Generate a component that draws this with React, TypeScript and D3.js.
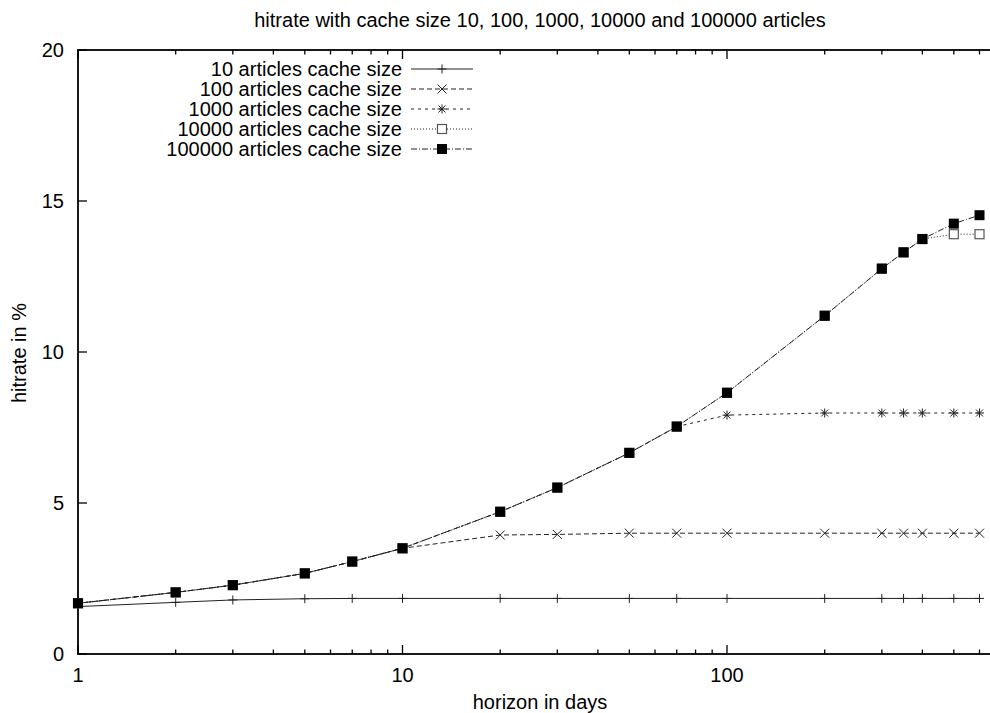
import React, { useRef, useEffect } from 'react';
import * as d3 from 'd3';

// horizon in days (x) and hitrate in % for each cache size
const days = [1, 2, 3, 5, 7, 10, 20, 30, 50, 70, 100, 200, 300, 350, 400, 500, 600];
const cache10 = [1.57, 1.71, 1.79, 1.83, 1.84, 1.84, 1.84, 1.84, 1.84, 1.84, 1.84, 1.84, 1.84, 1.84, 1.84, 1.84, 1.84];
const cache100 = [1.68, 2.04, 2.28, 2.67, 3.06, 3.5, 3.94, 3.96, 4.0, 4.0, 4.0, 4.0, 4.0, 4.0, 4.0, 4.0, 4.0];
const cache1000 = [1.68, 2.04, 2.28, 2.67, 3.06, 3.5, 4.71, 5.51, 6.66, 7.53, 7.91, 7.98, 7.98, 7.98, 7.98, 7.98, 7.98];
const cache10000 = [1.68, 2.04, 2.28, 2.67, 3.06, 3.5, 4.71, 5.51, 6.66, 7.53, 8.65, 11.2, 12.76, 13.3, 13.74, 13.9, 13.9];
const cache100000 = [1.68, 2.04, 2.28, 2.67, 3.06, 3.5, 4.71, 5.51, 6.66, 7.53, 8.65, 11.2, 12.76, 13.3, 13.74, 14.25, 14.53];

const seriesNames = [
  '10 articles cache size',
  '100 articles cache size',
  '1000 articles cache size',
  '10000 articles cache size',
  '100000 articles cache size',
];
const seriesValues = [cache10, cache100, cache1000, cache10000, cache100000];
const yTicks = [0, 5, 10, 15, 20];
const xMajor = [1, 10, 100, 1000];
const xLabels = [1, 10, 100]; // 1000 lies past the right edge of the picture

const W = 990;
const H = 713;
const FONT = '"Liberation Sans", Arial, sans-serif';
const FS = 20;

const dashes = ['none', '5,3', '3,4', '1,2', '6,2,1,2'];
const markers = ['plus', 'cross', 'star', 'box', 'fbox'];

function drawMarker(g: any, kind: string, cx: number, cy: number) {
  const r = 4.5;
  if (kind === 'plus' || kind === 'star') {
    g.append('path').attr('d', `M${cx - r},${cy}H${cx + r}M${cx},${cy - r}V${cy + r}`)
      .attr('stroke', '#222').attr('stroke-width', 1).attr('fill', 'none');
  }
  if (kind === 'cross' || kind === 'star') {
    const q = kind === 'star' ? 3.5 : r;
    g.append('path').attr('d', `M${cx - q},${cy - q}L${cx + q},${cy + q}M${cx - q},${cy + q}L${cx + q},${cy - q}`)
      .attr('stroke', '#222').attr('stroke-width', 1).attr('fill', 'none');
  }
  if (kind === 'box') {
    g.append('rect').attr('x', cx - 4.5).attr('y', cy - 4.5).attr('width', 9).attr('height', 9)
      .attr('fill', '#fff').attr('stroke', '#555').attr('stroke-width', 1.2);
  }
  if (kind === 'fbox') {
    g.append('rect').attr('x', cx - 5).attr('y', cy - 5).attr('width', 10).attr('height', 10)
      .attr('fill', '#000');
  }
}

const App: React.FC = () => {
  const ref = useRef<SVGSVGElement>(null);

  useEffect(() => {
    const svg = d3.select(ref.current);
    svg.selectAll('*').remove();

    const left = 78, top = 50, bottom = 654;
    const x = d3.scaleLog().domain([1, 1000]).range([left, left + 3 * 324.5]);
    const y = d3.scaleLinear().domain([0, 20]).range([bottom, top]);
    const right = x(1000);

    svg.append('rect').attr('width', W).attr('height', H).attr('fill', '#fff');

    // title
    svg.append('text').attr('x', 540).attr('y', 27).attr('text-anchor', 'middle')
      .attr('font-family', FONT).attr('font-size', FS)
      .text('hitrate with cache size 10, 100, 1000, 10000 and 100000 articles');

    // x ticks (bottom + mirrored top)
    const ticks = x.ticks();
    const axis = svg.append('g').attr('stroke', '#000').attr('stroke-width', 1.3);
    ticks.forEach(t => {
      const major = xMajor.includes(t);
      const len = major ? 9 : 4.5;
      const px = x(t);
      axis.append('line').attr('x1', px).attr('x2', px).attr('y1', bottom).attr('y2', bottom - len);
      axis.append('line').attr('x1', px).attr('x2', px).attr('y1', top).attr('y2', top + len);
    });
    svg.append('g').selectAll('text').data(xLabels).join('text')
      .attr('x', d => x(d)).attr('y', 682).attr('text-anchor', 'middle')
      .attr('font-family', FONT).attr('font-size', FS).text(d => String(d));

    // y ticks
    yTicks.forEach(t => {
      axis.append('line').attr('x1', left).attr('x2', left + 9).attr('y1', y(t)).attr('y2', y(t));
      axis.append('line').attr('x1', right).attr('x2', right - 9).attr('y1', y(t)).attr('y2', y(t));
    });
    svg.append('g').selectAll('text').data(yTicks).join('text')
      .attr('x', 64).attr('y', d => y(d)).attr('text-anchor', 'end').attr('dominant-baseline', 'central')
      .attr('font-family', FONT).attr('font-size', FS).text(d => String(d));

    // frame
    svg.append('rect').attr('x', left).attr('y', top).attr('width', right - left).attr('height', bottom - top)
      .attr('fill', 'none').attr('stroke', '#000').attr('stroke-width', 1.8);

    // axis labels
    svg.append('text').attr('x', 540).attr('y', 709).attr('text-anchor', 'middle')
      .attr('font-family', FONT).attr('font-size', FS).text('horizon in days');
    svg.append('text').attr('transform', 'translate(26,353) rotate(-90)').attr('text-anchor', 'middle')
      .attr('font-family', FONT).attr('font-size', FS).text('hitrate in %');

    // series
    const line = d3.line<number>().x((_, i) => x(days[i])).y(d => y(d));
    seriesValues.forEach((vals, s) => {
      const g = svg.append('g');
      g.append('path').attr('d', line(vals) as string).attr('fill', 'none')
        .attr('stroke', '#222').attr('stroke-width', 1).attr('stroke-dasharray', dashes[s]);
      vals.forEach((v, i) => drawMarker(g, markers[s], x(days[i]), y(v)));
    });

    // legend
    const lg = svg.append('g');
    seriesNames.forEach((name, s) => {
      const ly = 69 + s * 20;
      lg.append('text').attr('x', 402).attr('y', ly).attr('text-anchor', 'end').attr('dominant-baseline', 'central')
        .attr('font-family', FONT).attr('font-size', FS).text(name);
      lg.append('line').attr('x1', 411).attr('x2', 473).attr('y1', ly).attr('y2', ly)
        .attr('stroke', '#222').attr('stroke-width', 1).attr('stroke-dasharray', dashes[s]);
      drawMarker(lg, markers[s], 442, ly);
    });
  }, []);

  return (
    <svg ref={ref} width={W} height={H}
      style={{ position: 'absolute', left: 0, top: 0, display: 'block' }} />
  );
};

export default App;
